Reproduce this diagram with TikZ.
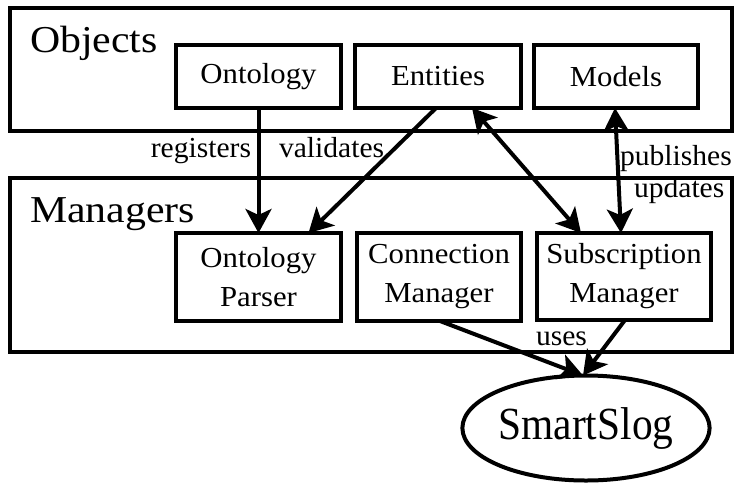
\documentclass[tikz,border=0pt]{standalone}
\usepackage{fontspec}
\setmainfont{Liberation Serif}
\newfontfamily\wfont[FakeStretch=1.06]{Liberation Serif}
\newfontfamily\tfont[FakeStretch=1.1]{Liberation Serif}
\newfontfamily\lfont[FakeStretch=1.02]{Liberation Serif}
\newfontfamily\nfont[FakeStretch=0.9]{Liberation Serif}
\usetikzlibrary{arrows.meta,shapes.geometric}
\begin{document}
\begin{tikzpicture}[x=1pt,y=-1pt,
  every node/.style={inner sep=0pt,outer sep=0pt},
  group/.style={draw,line width=4pt,rectangle},
  box/.style={draw,line width=4pt,rectangle,align=center,
    font=\wfont\fontsize{29}{39}\selectfont},
  title/.style={font=\tfont\fontsize{38}{40}\selectfont},
  lbl/.style={font=\lfont\fontsize{29}{32}\selectfont},
  conn/.style={line width=4pt,-{Stealth[length=24pt,width=26pt,inset=6pt]}},
  dconn/.style={line width=4pt,{Stealth[length=24pt,width=26pt,inset=6pt]}-{Stealth[length=24pt,width=26pt,inset=6pt]}}]
\useasboundingbox (0,0) rectangle (736,485);
\fill[white] (0,0) rectangle (736,485);
% groups
\node[group,minimum width=722pt,minimum height=123pt] (objects) at (371,69.5) {};
\node[group,minimum width=722pt,minimum height=174pt] (managers) at (371,265) {};
\node[title,anchor=base west] (objt) at (30,52) {Objects};
\node[title,anchor=base west] (mant) at (30,222) {Managers};
% object nodes
\node[box,minimum width=165pt,minimum height=63pt] (ont) at (258.5,76.5) {Ontology};
\node[box,minimum width=166pt,minimum height=63pt] (ent) at (438,76.5) {Entities};
\node[box,minimum width=164pt,minimum height=63pt] (mod) at (616,76.5) {Models};
% manager nodes
\node[box,minimum width=165pt,minimum height=88pt] (op) at (258.5,277) {Ontology\\Parser};
\node[box,minimum width=164pt,minimum height=88pt] (con) at (439,277) {Connection\\Manager};
\node[box,minimum width=174pt,minimum height=87pt] (sub) at (624,276.5) {Subscription\\Manager};
% SmartSlog
\node[draw,line width=4pt,ellipse,minimum width=224pt,minimum height=105pt,
  font=\nfont\fontsize{46}{48}\selectfont] (ss) at (586,428) {SmartSlog};
% connectors
\draw[conn] (ont.south) -- (op.north);
\draw[conn] ([xshift=-2pt]ent.south) -- ([xshift=50pt]op.north);
\draw[dconn] ([xshift=34pt]ent.south) -- ([xshift=-43pt]sub.north);
\draw[dconn] ([xshift=-1pt]mod.south) -- ([xshift=-3pt]sub.north);
\draw[conn] ([xshift=1pt]con.south) -- ([xshift=-3pt]ss.north);
\draw[conn] ([xshift=1pt]sub.south) -- ([xshift=-3pt]ss.north);
% labels
\node[lbl,anchor=base east] (lreg) at (251,157) {registers};
\node[lbl,anchor=base west] (lval) at (279,157) {validates};
\node[lbl,anchor=base west] (lpub) at (620,165) {publishes};
\node[lbl,anchor=base west] (lupd) at (634,197) {updates};
\node[lbl,anchor=base west] (luse) at (536,345) {uses};
\end{tikzpicture}
\end{document}
